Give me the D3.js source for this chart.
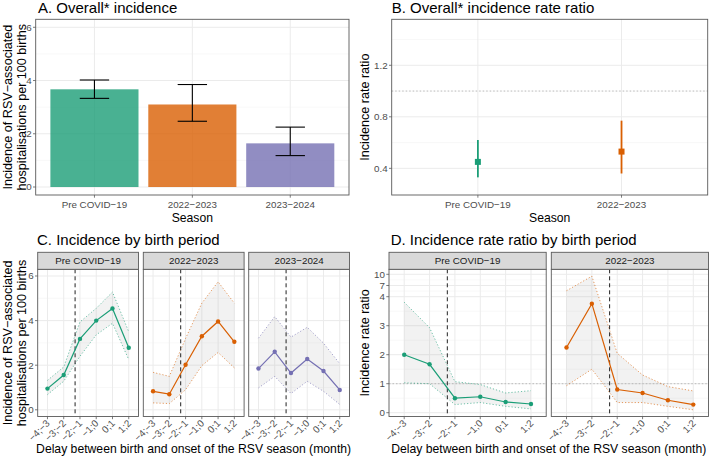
<!DOCTYPE html>
<html><head><meta charset="utf-8">
<script src="https://cdn.jsdelivr.net/npm/d3@7"></script>
<style>
body{margin:0;background:#fff}
svg text{font-family:"Liberation Sans",Arial,Helvetica,sans-serif}
</style></head><body>
<svg id="chart" width="709" height="457"></svg>
<script>
// seasons and colours (Dark2)
const seasons = ["Pre COVID\u221219", "2022\u22122023", "2023\u22122024"];
const seasonColors = ["#1B9E77", "#D95F02", "#7570B3"];

// A. overall incidence per 100 births
const overallInc = [3.67, 3.10, 1.64];
const overallLo = [3.33, 2.47, 1.18];
const overallHi = [4.02, 3.85, 2.25];

// B. overall incidence rate ratio
const irrSeasons = ["Pre COVID\u221219", "2022\u22122023"];
const overallIrr = [0.45, 0.53];
const overallIrrLo = [0.33, 0.36];
const overallIrrHi = [0.62, 0.77];

// C/D. delay between birth and RSV season onset (month)
const delays = ["\u22124;\u22123", "\u22123;\u22122", "\u22122;\u22121", "\u22121;0", "0;1", "1;2"];
const incPre = [0.95, 1.56, 3.18, 4.00, 4.54, 2.78];
const incPreLo = [0.68, 1.28, 2.40, 3.36, 3.88, 2.25];
const incPreHi = [1.32, 1.92, 3.94, 4.55, 5.28, 3.50];
const inc2223 = [0.83, 0.70, 2.02, 3.30, 3.96, 3.05];
const inc2223Lo = [0.31, 0.28, 0.90, 1.98, 2.57, 1.88];
const inc2223Hi = [1.68, 1.50, 3.20, 4.78, 5.74, 4.78];
const inc2324 = [1.85, 2.60, 1.65, 2.28, 1.74, 0.89];
const inc2324Lo = [0.98, 1.50, 0.73, 1.28, 0.83, 0.24];
const inc2324Hi = [3.21, 4.18, 3.26, 3.70, 2.99, 2.07];

const irrPre = [2.00, 1.67, 0.50, 0.55, 0.37, 0.30];
const irrPreLo = [1.03, 1.00, 0.28, 0.35, 0.22, 0.13];
const irrPreHi = [3.81, 2.93, 1.07, 0.97, 0.68, 0.76];
const irr2223 = [2.25, 3.76, 0.80, 0.68, 0.43, 0.28];
const irr2223Lo = [0.93, 1.50, 0.35, 0.35, 0.22, 0.10];
const irr2223Hi = [5.6, 9.5, 2.05, 1.30, 0.90, 0.75];

const onsetX = 2.7;          // ggplot x position (1-based) of season onset
const incTicks = [0, 2, 4, 6];
const incMinor = [1, 3, 5];
const irrTicks = [0.4, 0.8, 1.2];
const irrMinor = [0.6, 1.0, 1.4];
const irrFacetTicks = [0, 1, 2, 3, 4, 7, 10];
const irrFacetMinor = [0.5, 1.5, 2.5, 3.5, 5.5, 8.5];

const svg = d3.select('#chart');
const BORDER = '#5a5a5a', GRID = '#ebebeb', GRIDMINOR = '#f3f3f3', TICKTXT = '#4d4d4d';

function panelFrame(g, x0, x1, y0, y1, yScale, ticks, minor, xScale, cats) {
    minor.forEach(v => g.append('line').attr('x1', x0).attr('x2', x1)
        .attr('y1', yScale(v)).attr('y2', yScale(v)).attr('stroke', GRIDMINOR).attr('stroke-width', 0.6));
    ticks.forEach(v => g.append('line').attr('x1', x0).attr('x2', x1)
        .attr('y1', yScale(v)).attr('y2', yScale(v)).attr('stroke', GRID).attr('stroke-width', 1));
    cats.forEach(c => g.append('line').attr('x1', xScale(c)).attr('x2', xScale(c))
        .attr('y1', y0).attr('y2', y1).attr('stroke', GRID).attr('stroke-width', 1));
}
function border(g, x0, x1, y0, y1) {
    g.append('rect').attr('x', x0).attr('y', y0).attr('width', x1 - x0).attr('height', y1 - y0)
        .attr('fill', 'none').attr('stroke', BORDER).attr('stroke-width', 0.9);
}
function yAxis(g, x0, yScale, ticks) {
    ticks.forEach(v => {
        g.append('line').attr('x1', x0 - 2.7).attr('x2', x0).attr('y1', yScale(v)).attr('y2', yScale(v))
            .attr('stroke', BORDER).attr('stroke-width', 0.8);
        g.append('text').attr('x', x0 - 4).attr('y', yScale(v)).attr('dy', '0.35em')
            .attr('text-anchor', 'end').attr('font-size', 9.8).attr('fill', TICKTXT).text(v);
    });
}
function xAxis(g, y1, xScale, cats, rotate) {
    cats.forEach(c => {
        g.append('line').attr('x1', xScale(c)).attr('x2', xScale(c)).attr('y1', y1).attr('y2', y1 + 2.7)
            .attr('stroke', BORDER).attr('stroke-width', 0.8);
        const t = g.append('text').attr('font-size', 9.8).attr('fill', TICKTXT).text(c);
        if (rotate) {
            t.attr('transform', `translate(${xScale(c) + 3},${y1 + 7.5}) rotate(-45)`).attr('text-anchor', 'end');
        } else {
            t.attr('x', xScale(c)).attr('y', y1 + 12.5).attr('text-anchor', 'middle');
        }
    });
}
function title(txt, x, y) {
    svg.append('text').attr('x', x).attr('y', y).attr('font-size', 15).attr('fill', '#000').text(txt);
}
function axisTitle(txt, x, y, rot) {
    const t = svg.append('text').attr('font-size', rot ? 12.6 : 12.2).attr('text-anchor', 'middle').attr('fill', '#000').text(txt);
    if (rot) t.attr('transform', `translate(${x},${y}) rotate(-90)`);
    else t.attr('x', x).attr('y', y);
}
function strip(g, x0, x1, y0, y1, txt) {
    g.append('rect').attr('x', x0).attr('y', y0).attr('width', x1 - x0).attr('height', y1 - y0)
        .attr('fill', '#d9d9d9').attr('stroke', BORDER).attr('stroke-width', 0.9);
    g.append('text').attr('x', (x0 + x1) / 2).attr('y', (y0 + y1) / 2).attr('dy', '0.36em')
        .attr('text-anchor', 'middle').attr('font-size', 9.8).attr('fill', '#1a1a1a').text(txt);
}

// ---------- A ----------
{
    const L = 35.7, R = 349, T = 19.3, B = 195;
    const g = svg.append('g');
    const x = d3.scalePoint().domain(seasons).range([L, R]).padding(0.6);
    const y = d3.scaleLinear().domain([-0.3, 6.3]).range([B, T]);
    panelFrame(g, L, R, T, B, y, incTicks, incMinor, x, seasons);
    const bw = x.step() * 0.9, cw = x.step() * 0.3;
    seasons.forEach((s, i) => {
        g.append('rect').attr('x', x(s) - bw / 2).attr('width', bw)
            .attr('y', y(overallInc[i])).attr('height', y(0) - y(overallInc[i]))
            .attr('fill', seasonColors[i]).attr('fill-opacity', 0.8);
        const e = g.append('g').attr('stroke', '#000').attr('stroke-width', 1.1);
        e.append('line').attr('x1', x(s)).attr('x2', x(s)).attr('y1', y(overallLo[i])).attr('y2', y(overallHi[i]));
        e.append('line').attr('x1', x(s) - cw / 2).attr('x2', x(s) + cw / 2).attr('y1', y(overallLo[i])).attr('y2', y(overallLo[i]));
        e.append('line').attr('x1', x(s) - cw / 2).attr('x2', x(s) + cw / 2).attr('y1', y(overallHi[i])).attr('y2', y(overallHi[i]));
    });
    border(g, L, R, T, B);
    yAxis(g, L, y, incTicks);
    xAxis(g, B, x, seasons, false);
    title('A. Overall* incidence', 38, 12.8);
    axisTitle('Season', (L + R) / 2, 221.5, false);
    axisTitle('Incidence of RSV\u2212associated', 12.2, (T + B) / 2, true);
    axisTitle('hospitalisations per 100 births', 25.6, (T + B) / 2, true);
}

// ---------- B ----------
{
    const L = 391.7, R = 707.7, T = 19.3, B = 195;
    const g = svg.append('g');
    const x = d3.scalePoint().domain(irrSeasons).range([L, R]).padding(0.6);
    const y = d3.scaleLinear().domain([0.193, 1.557]).range([B, T]);
    panelFrame(g, L, R, T, B, y, irrTicks, irrMinor, x, irrSeasons);
    g.append('line').attr('x1', L).attr('x2', R).attr('y1', y(1)).attr('y2', y(1))
        .attr('stroke', '#b5b5b5').attr('stroke-width', 0.9).attr('stroke-dasharray', '1.5,2');
    irrSeasons.forEach((s, i) => {
        g.append('line').attr('x1', x(s)).attr('x2', x(s)).attr('y1', y(overallIrrLo[i])).attr('y2', y(overallIrrHi[i]))
            .attr('stroke', seasonColors[i]).attr('stroke-width', 1.8);
        g.append('rect').attr('x', x(s) - 3).attr('y', y(overallIrr[i]) - 3).attr('width', 6).attr('height', 6)
            .attr('fill', seasonColors[i]);
    });
    border(g, L, R, T, B);
    yAxis(g, L, y, irrTicks);
    xAxis(g, B, x, irrSeasons, false);
    title('B. Overall* incidence rate ratio', 391.7, 12.8);
    axisTitle('Season', (L + R) / 2, 221.5, false);
    axisTitle('Incidence rate ratio', 369, (T + B) / 2, true);
}

function facetSeries(g, x, y, mid, lo, hi, color, T, B, L, R, refLine) {
    panelFrame(g, L, R, T, B, y, y.ticksUsed, y.minorUsed, x, delays);
    if (refLine) {
        g.append('line').attr('x1', L).attr('x2', R).attr('y1', y(1)).attr('y2', y(1))
            .attr('stroke', '#b5b5b5').attr('stroke-width', 0.9).attr('stroke-dasharray', '1.5,2');
    }
    const area = d3.area().x((d, i) => x(delays[i])).y0((d, i) => y(lo[i])).y1((d, i) => y(hi[i]));
    g.append('path').attr('d', area(mid)).attr('fill', '#a0a0a0').attr('fill-opacity', 0.14);
    const ln = d3.line().x((d, i) => x(delays[i])).y(d => y(d));
    [lo, hi].forEach(arr => g.append('path').attr('d', ln(arr)).attr('fill', 'none')
        .attr('stroke', color).attr('stroke-opacity', 0.7).attr('stroke-width', 0.9).attr('stroke-dasharray', '1.2,2'));
    const step = x.step();
    const xo = x(delays[0]) + (onsetX - 1) * step;
    g.append('line').attr('x1', xo).attr('x2', xo).attr('y1', T).attr('y2', B)
        .attr('stroke', '#222').attr('stroke-width', 1).attr('stroke-dasharray', '4,3');
    g.append('path').attr('d', ln(mid)).attr('fill', 'none').attr('stroke', color).attr('stroke-width', 1.2);
    mid.forEach((d, i) => g.append('circle').attr('cx', x(delays[i])).attr('cy', y(d)).attr('r', 2.2).attr('fill', color));
}

// ---------- C ----------
{
    const lefts = [37.7, 143.3, 248.7], W = 100.8, ST = 252.3, T = 269.3, B = 416.5;
    const series = [[incPre, incPreLo, incPreHi], [inc2223, inc2223Lo, inc2223Hi], [inc2324, inc2324Lo, inc2324Hi]];
    const y = d3.scaleLinear().domain([-0.3, 6.3]).range([B, T]);
    y.ticksUsed = incTicks; y.minorUsed = incMinor;
    lefts.forEach((L, k) => {
        const g = svg.append('g');
        const R = L + W;
        const x = d3.scalePoint().domain(delays).range([L, R]).padding(0.6);
        facetSeries(g, x, y, series[k][0], series[k][1], series[k][2], seasonColors[k], T, B, L, R, false);
        border(g, L, R, T, B);
        strip(g, L, R, ST, T, seasons[k]);
        if (k === 0) yAxis(g, L, y, incTicks);
        xAxis(g, B, x, delays, true);
    });
    title('C. Incidence by birth period', 37, 245);
    axisTitle('Delay between birth and onset of the RSV season (month)', (lefts[0] + lefts[2] + W) / 2, 452.5, false);
    axisTitle('Incidence of RSV\u2212associated', 12.2, (T + B) / 2, true);
    axisTitle('hospitalisations per 100 births', 25.6, (T + B) / 2, true);
}

// ---------- D ----------
{
    const lefts = [389, 551.3], W = 157.2, ST = 252.3, T = 269.3, B = 416.5;
    const series = [[irrPre, irrPreLo, irrPreHi], [irr2223, irr2223Lo, irr2223Hi]];
    const y0 = B - 3.8, y10 = T + 5, y4 = y0 - (y0 - y10) * 116 / 138.4;
    const y = d3.scaleLinear().domain([0, 4, 10]).range([y0, y4, y10]);
    y.ticksUsed = irrFacetTicks; y.minorUsed = irrFacetMinor;
    lefts.forEach((L, k) => {
        const g = svg.append('g');
        const R = L + W;
        const x = d3.scalePoint().domain(delays).range([L, R]).padding(0.6);
        facetSeries(g, x, y, series[k][0], series[k][1], series[k][2], seasonColors[k], T, B, L, R, true);
        border(g, L, R, T, B);
        strip(g, L, R, ST, T, seasons[k]);
        if (k === 0) yAxis(g, L, y, irrFacetTicks);
        xAxis(g, B, x, delays, true);
    });
    title('D. Incidence rate ratio by birth period', 390.7, 245);
    axisTitle('Delay between birth and onset of the RSV season (month)', (lefts[0] + lefts[1] + W) / 2, 452.5, false);
    axisTitle('Incidence rate ratio', 369, (T + B) / 2, true);
}
</script></body></html>
